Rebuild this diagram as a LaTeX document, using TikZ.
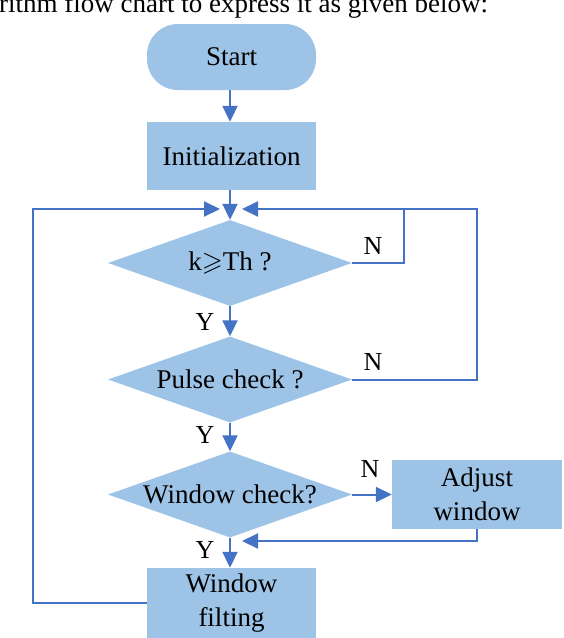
\documentclass[tikz,border=0pt]{standalone}
\usepackage{fontspec}
\usepackage{amssymb}
\setmainfont{Liberation Serif}
\usetikzlibrary{shapes.geometric,arrows.meta}
\definecolor{boxfill}{HTML}{9DC3E6}
\definecolor{linec}{HTML}{4472C4}
\begin{document}
\begin{tikzpicture}[x=1pt,y=-1pt,
  font=\fontsize{27}{31}\selectfont,
  boxnode/.style={fill=boxfill,draw=none,inner sep=0,minimum width=169pt,minimum height=68pt,align=center},
  dianode/.style={shape=diamond,fill=boxfill,draw=none,inner sep=0,minimum width=244pt,minimum height=86pt},
  conn/.style={draw=linec,line width=2pt},
  arr/.style={conn,-{Triangle[length=16pt,width=15pt]}},
  lab/.style={inner sep=0,font=\fontsize{26}{30}\selectfont}]
\useasboundingbox (0,0) rectangle (564,638);
\clip (0,0) rectangle (564,638);
\node[anchor=base west,inner sep=0] (title) at (-1,12) {rithm flow chart to express it as given below:};
\node[boxnode,rounded corners=31pt,minimum height=66pt] (start) at (231.5,57) {Start};
\node[boxnode] (init) at (231.5,156) {Initialization};
\node[dianode] (d1) at (230,263) {};
\node (d1t) at (d1) {k$\geqslant$Th ?};
\node[dianode] (d2) at (230,379.5) {};
\node (d2t) at (d2) {Pulse check ?};
\node[dianode] (d3) at (230,494.5) {};
\node (d3t) at (d3) {Window check?};
\node[boxnode,minimum width=170pt,minimum height=69pt] (adj) at (477,494.5) {Adjust\\[3pt]window};
\node[boxnode,minimum height=70pt] (wf) at (231.5,603) {Window\\[3pt]filting};
\coordinate (mL) at (220,209);
\coordinate (mR) at (242,209);
\coordinate (bR) at (242,541);
\draw[arr] (start.south -| d1.north) -- (init.north -| d1.north);
\draw[arr] (init.south -| d1.north) -- (d1.north);
\draw[arr] (d1.south) -- (d2.north);
\draw[arr] (d2.south) -- (d3.north);
\draw[arr] (d3.south) -- (wf.north -| d3.south);
\draw[arr] (d3.east) -- (adj.west);
\draw[arr] (wf.west) -- (33,603) -- (33,209) -- (mL);
\draw[arr] (d2.east) -- (477,379.5) -- (477,209) -- (mR);
\draw[conn] (d1.east) -- (404,263) -- (404,209);
\draw[arr] (adj.south) -- (477,541) -- (bR);
\node[lab] (n1) at (373,246) {N};
\node[lab] (n2) at (373,362) {N};
\node[lab] (n3) at (370,469) {N};
\node[lab] (y1) at (205,322) {Y};
\node[lab] (y2) at (205,435) {Y};
\node[lab] (y3) at (205,550) {Y};
\end{tikzpicture}
\end{document}
